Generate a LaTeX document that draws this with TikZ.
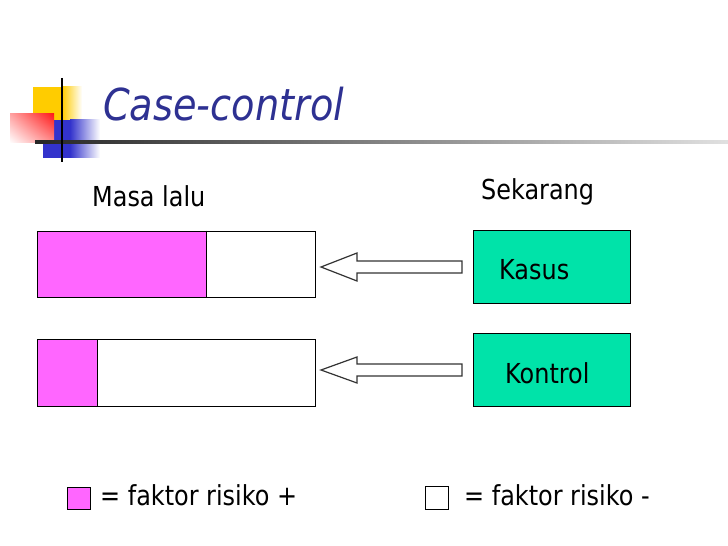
\documentclass[tikz,border=0pt]{standalone}
\usepackage{fontspec}
\setmainfont{DejaVu Sans}[FakeStretch=0.87]
\usetikzlibrary{shadings}
\definecolor{mag}{HTML}{FF66FF}
\definecolor{teal2}{HTML}{00E3A9}
\definecolor{ttl}{HTML}{2E3192}
\definecolor{yel}{HTML}{FFCC00}
\definecolor{blu}{HTML}{3333CC}
\definecolor{rd}{HTML}{FF1A1A}
\tikzset{
  bar/.style={draw=black, line width=1bp},
  box/.style={draw=black, line width=1bp, fill=teal2},
  txt/.style={inner sep=0pt, anchor=base west, font=\fontsize{27.5bp}{32bp}\selectfont},
  arrowshape/.style={draw=black!80, line width=1.2bp, fill=white, line join=miter},
}
\begin{document}
\begin{tikzpicture}[x=1bp,y=-1bp]
\useasboundingbox (0,0) rectangle (728,546);
% logo
\fill[yel] (33,87) rectangle (62,120);
\shade[left color=yel, right color=white, draw=none] (62,87) rectangle (82,120);
\fill[blu] (43,120) rectangle (70,158);
\shade[left color=blu, right color=white, draw=none] (70,120) rectangle (100,158);
\shade[upper right=rd, upper left=rd!40, lower right=rd!50, lower left=white] (10,114) rectangle (54,143);
\shade[left color=black!85, right color=black!12] (35,140.5) rectangle (728,143.5);
\draw[black, line width=2bp] (61.7,78) -- (61.7,162);
% title
\node[txt, text=ttl, font=\fontsize{44bp}{50bp}\selectfont\itshape] (title) at (103,120.5) {Case-control};
% headers
\node[txt] (masa) at (92,206.5) {Masa lalu};
\node[txt] (sek) at (481,199.5) {Sekarang};
% bars
\fill[mag] (36.7,230.7) rectangle (206.7,297.3);
\node[bar, minimum width=278.3bp, minimum height=66.6bp, inner sep=0pt, anchor=north west] (bar1) at (36.7,230.7) {};
\draw[bar] (206.7,230.7) -- (206.7,297.3);
\fill[mag] (36.7,339.3) rectangle (97.3,406);
\node[bar, minimum width=278.3bp, minimum height=66.7bp, inner sep=0pt, anchor=north west] (bar2) at (36.7,339.3) {};
\draw[bar] (97.3,339.3) -- (97.3,406);
% boxes
\node[box, minimum width=157bp, minimum height=72.7bp, inner sep=0pt, anchor=north west] (kasus) at (473,230) {};
\node[txt] (kasusT) at (499,280) {Kasus};
\node[box, minimum width=157bp, minimum height=72.7bp, inner sep=0pt, anchor=north west] (kontrol) at (473,333.3) {};
\node[txt] (kontrolT) at (505,383) {Kontrol};
% arrows
\coordinate (a1tip) at (321,267);
\coordinate (a2tip) at (321,370);
\draw[arrowshape] (a1tip) -- ++(36,-14) -- ++(0,8) -- ++(105,0) -- ++(0,12) -- ++(-105,0) -- ++(0,8) -- cycle;
\draw[arrowshape] (a2tip) -- ++(36,-13) -- ++(0,7) -- ++(105,0) -- ++(0,12) -- ++(-105,0) -- ++(0,7) -- cycle;
% legend
\node[draw=black, line width=1bp, fill=mag, minimum width=23bp, minimum height=22.3bp, inner sep=0pt, anchor=north west] (leg1) at (66.7,486.7) {};
\node[txt] (leg1T) at (100,505) {= faktor risiko +};
\node[draw=black, line width=1bp, fill=white, minimum width=23.3bp, minimum height=23.3bp, inner sep=0pt, anchor=north west] (leg2) at (425,485.7) {};
\node[txt] (leg2T) at (464,505) {= faktor risiko -};
\end{tikzpicture}
\end{document}
